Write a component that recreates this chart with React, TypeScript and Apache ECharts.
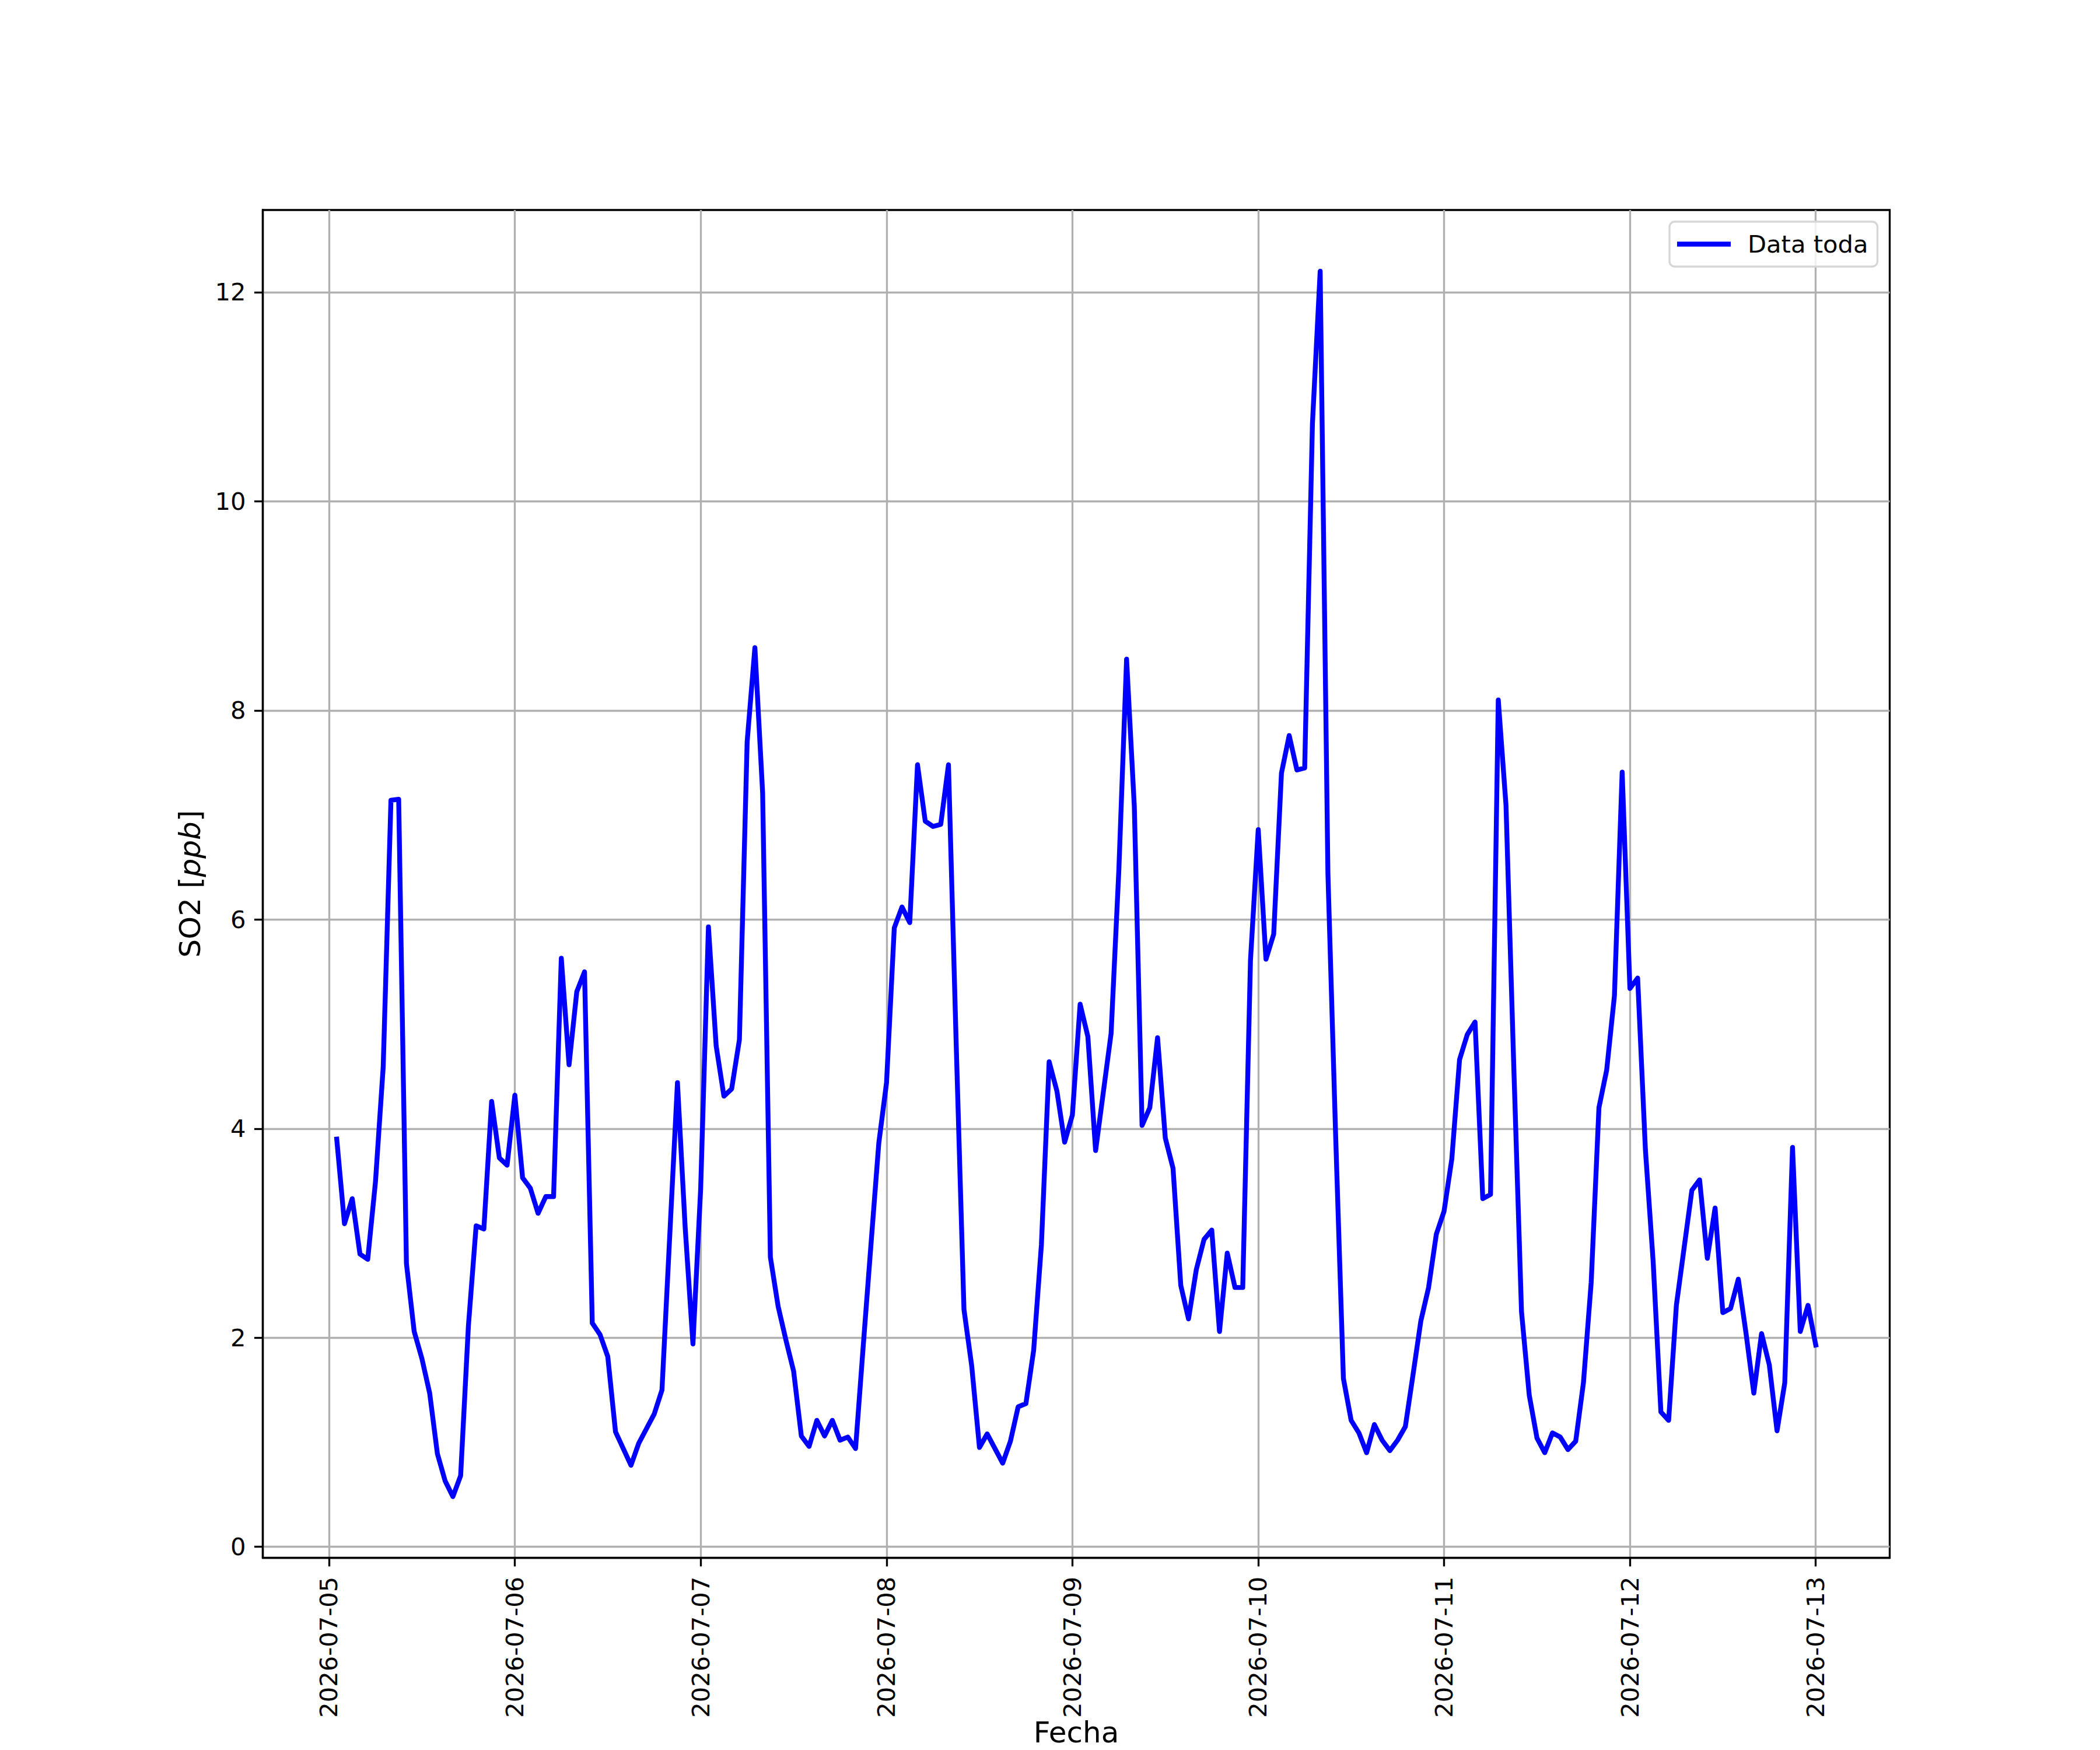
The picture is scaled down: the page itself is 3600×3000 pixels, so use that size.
import React, { useEffect, useRef } from "react";
import * as echarts from "echarts";

// Hourly SO2 readings, first reading at 2026-07-05 01:00 (UTC), one per hour
const FIRST_READING = "2026-07-05T01:00:00Z";
const HOUR_MS = 3600000;

// 2026-07-05 01:00 .. 2026-07-06 00:00
const so2Day1 = [3.9, 3.09, 3.33, 2.8, 2.75, 3.49, 4.59, 7.14, 7.15, 2.71, 2.06, 1.8, 1.47, 0.89, 0.63, 0.48, 0.68, 2.11, 3.07, 3.04, 4.26, 3.72, 3.65, 4.32];
// 2026-07-06 01:00 .. 2026-07-07 00:00
const so2Day2 = [3.53, 3.43, 3.19, 3.35, 3.35, 5.63, 4.61, 5.31, 5.5, 2.14, 2.03, 1.82, 1.1, 0.94, 0.78, 0.99, 1.13, 1.27, 1.5, 2.97, 4.44, 3.05, 1.94, 3.43];
// 2026-07-07 01:00 .. 2026-07-08 00:00
const so2Day3 = [5.93, 4.79, 4.31, 4.38, 4.85, 7.7, 8.6, 7.21, 2.77, 2.3, 1.98, 1.68, 1.06, 0.96, 1.21, 1.06, 1.21, 1.02, 1.05, 0.94, 1.93, 2.9, 3.86, 4.44];
// 2026-07-08 01:00 .. 2026-07-09 00:00
const so2Day4 = [5.92, 6.12, 5.97, 7.48, 6.94, 6.89, 6.91, 7.48, 4.8, 2.27, 1.73, 0.95, 1.08, 0.94, 0.8, 1.01, 1.34, 1.37, 1.88, 2.89, 4.64, 4.36, 3.87, 4.13];
// 2026-07-09 01:00 .. 2026-07-10 00:00
const so2Day5 = [5.19, 4.88, 3.79, 4.35, 4.91, 6.47, 8.49, 7.08, 4.03, 4.2, 4.87, 3.91, 3.62, 2.5, 2.18, 2.65, 2.94, 3.03, 2.06, 2.81, 2.48, 2.48, 5.61, 6.86];
// 2026-07-10 01:00 .. 2026-07-11 00:00
const so2Day6 = [5.62, 5.86, 7.4, 7.76, 7.43, 7.45, 10.74, 12.2, 6.44, 3.93, 1.61, 1.21, 1.09, 0.9, 1.17, 1.02, 0.92, 1.02, 1.15, 1.65, 2.16, 2.48, 2.99, 3.21];
// 2026-07-11 01:00 .. 2026-07-12 00:00
const so2Day7 = [3.71, 4.66, 4.9, 5.02, 3.33, 3.37, 8.1, 7.09, 4.6, 2.25, 1.45, 1.04, 0.9, 1.09, 1.05, 0.93, 1.01, 1.57, 2.53, 4.2, 4.56, 5.27, 7.41, 5.34];
// 2026-07-12 01:00 .. 2026-07-13 00:00
const so2Day8 = [5.44, 3.8, 2.73, 1.29, 1.21, 2.31, 2.86, 3.41, 3.51, 2.76, 3.24, 2.24, 2.28, 2.56, 2.04, 1.47, 2.04, 1.74, 1.11, 1.57, 3.82, 2.06, 2.31, 1.93];

const dayTicks = ["2026-07-05", "2026-07-06", "2026-07-07", "2026-07-08", "2026-07-09", "2026-07-10", "2026-07-11", "2026-07-12", "2026-07-13"];
const yTicks = [0, 2, 4, 6, 8, 10, 12];

const SERIES_NAME = "Data toda";
const X_LABEL = "Fecha";

const TICK_FS = 41.667;
const LABEL_FS = 50;
const FONT = "DejaVu Sans";

export default function App() {
  const ref = useRef<HTMLDivElement>(null);

  useEffect(() => {
    document.body.style.margin = "0";
    if (!ref.current) return;
    const chart = echarts.init(ref.current, undefined, { renderer: "svg" });

    const values = [...so2Day1, ...so2Day2, ...so2Day3, ...so2Day4, ...so2Day5, ...so2Day6, ...so2Day7, ...so2Day8];
    const t0 = Date.parse(FIRST_READING);
    const data = values.map((v, i) => [t0 + i * HOUR_MS, v]);

    const xs = data.map((d) => d[0] as number);
    const xMinD = Math.min(...xs);
    const xMaxD = Math.max(...xs);
    const xPad = (xMaxD - xMinD) * 0.05;
    const yMinD = Math.min(...values);
    const yMaxD = Math.max(...values);
    const yPad = (yMaxD - yMinD) * 0.05;

    const xTickVals = dayTicks.map((d) => Date.parse(d + "T00:00:00Z"));

    chart.setOption({
      animation: false,
      backgroundColor: "#ffffff",
      textStyle: { fontFamily: FONT },
      grid: {
        left: 450.5,
        top: 360,
        width: 2789,
        height: 2310.7,
        show: true,
        borderColor: "#000000",
        borderWidth: 3.33,
        backgroundColor: "transparent",
        outerBoundsMode: "none",
        containLabel: false,
      },
      legend: {
        data: [SERIES_NAME],
        left: 2862,
        top: 380,
        orient: "vertical",
        icon: "rect",
        itemWidth: 92,
        itemHeight: 8.33,
        padding: [13.5, 16, 13.5, 13],
        borderColor: "#d6d6d6",
        borderWidth: 3.33,
        borderRadius: 9,
        backgroundColor: "rgba(255,255,255,0.8)",
        textStyle: {
          fontFamily: FONT,
          fontSize: TICK_FS,
          color: "#000000",
          lineHeight: 50,
          padding: [0, 0, 0, 24],
        },
      },
      xAxis: {
        type: "value",
        min: xMinD - xPad,
        max: xMaxD + xPad,
        scale: true,
        name: X_LABEL,
        nameLocation: "middle",
        nameGap: 274,
        nameMoveOverlap: false,
        nameTextStyle: { fontFamily: FONT, fontSize: LABEL_FS, color: "#000000", lineHeight: 50 },
        axisLine: { show: true, onZero: false, lineStyle: { color: "#000000", width: 3.33 } },
        axisTick: {
          show: true,
          length: 14.6,
          lineStyle: { color: "#000000", width: 3.33 },
          customValues: xTickVals,
        },
        axisLabel: {
          show: true,
          rotate: 90,
          margin: 32,
          fontFamily: FONT,
          fontSize: TICK_FS,
          color: "#000000",
          customValues: xTickVals,
          formatter: (v: number) => new Date(v).toISOString().slice(0, 10),
        },
        splitLine: { show: true, lineStyle: { color: "#b0b0b0", width: 3.33 } },
      },
      yAxis: {
        type: "value",
        min: yMinD - yPad,
        max: yMaxD + yPad,
        name: "{n|SO2 [}{i|ppb}{n|]}",
        nameLocation: "middle",
        nameRotate: 90,
        nameGap: 100,
        nameMoveOverlap: false,
        nameTextStyle: {
          fontFamily: FONT,
          fontSize: LABEL_FS,
          color: "#000000",
          rich: {
            n: { fontFamily: FONT, fontSize: LABEL_FS, color: "#000000" },
            i: { fontFamily: FONT, fontSize: LABEL_FS, color: "#000000", fontStyle: "italic" },
          },
        },
        axisLine: { show: true, onZero: false, lineStyle: { color: "#000000", width: 3.33 } },
        axisTick: {
          show: true,
          length: 14.6,
          lineStyle: { color: "#000000", width: 3.33 },
          customValues: yTicks,
        },
        axisLabel: {
          show: true,
          margin: 29,
          fontFamily: FONT,
          fontSize: TICK_FS,
          color: "#000000",
          customValues: yTicks,
          formatter: (v: number) => String(v),
        },
        splitLine: { show: true, lineStyle: { color: "#b0b0b0", width: 3.33 } },
      },
      series: [
        {
          name: SERIES_NAME,
          type: "line",
          data,
          showSymbol: false,
          symbol: "none",
          lineStyle: { color: "#0000ff", width: 8.33, join: "round", cap: "square" },
          itemStyle: { color: "#0000ff" },
          emphasis: { disabled: true },
          z: 3,
        },
      ],
    });

    return () => chart.dispose();
  }, []);

  return <div ref={ref} style={{ position: "absolute", left: 0, top: 0, width: 3600, height: 3000 }} />;
}
